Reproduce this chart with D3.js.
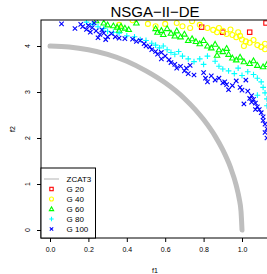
<!DOCTYPE html>
<html>
<head>
<meta charset="utf-8">
<script src="https://cdn.jsdelivr.net/npm/d3@7"></script>
<style>
  body { margin: 0; background: #fff; }
  svg { display: block; font-family: "Liberation Sans", Arial, sans-serif; }
  .tick text { font-size: 7px; fill: #000; }
</style>
</head>
<body>
<svg width="267" height="274"></svg>
<script>
// Pareto front of ZCAT3
const frontF1 = [0, 0.1, 0.2, 0.3, 0.4, 0.5, 0.6, 0.7, 0.8, 0.86, 0.9, 0.94, 0.97, 0.985, 0.995, 1.0];
const frontF2 = [4.0, 3.98, 3.92, 3.82, 3.67, 3.46, 3.2, 2.86, 2.4, 2.04, 1.74, 1.36, 0.97, 0.69, 0.40, 0.0];

const xTicks = [0, 0.2, 0.4, 0.6, 0.8, 1.0];
const yTicks = [0, 1, 2, 3, 4];

const seriesNames = ['G 20', 'G 40', 'G 60', 'G 80', 'G 100'];
const seriesColors = ['#ff0000', '#ffff00', '#00ff00', '#00ffff', '#0000ff'];
const seriesShapes = ['square', 'circle', 'triangle', 'plus', 'cross'];

const g20 = [[0.79, 4.41], [0.90, 4.30], [1.04, 4.30], [1.125, 4.50]];

const g40 = [
  [0.36, 4.46], [0.43, 4.56], [0.51, 4.48], [0.55, 4.43], [0.60, 4.48], [0.69, 4.43],
  [0.73, 4.39], [0.74, 4.54], [0.78, 4.46], [0.82, 4.39], [0.85, 4.35], [0.87, 4.30],
  [0.90, 4.33], [0.92, 4.26], [0.95, 4.24], [0.97, 4.19], [0.99, 4.22], [0.98, 4.30],
  [1.00, 4.14], [1.02, 4.10], [1.04, 4.07], [1.06, 4.13], [1.08, 4.02], [1.10, 3.98],
  [1.12, 3.93], [1.12, 4.05], [0.88, 4.39], [0.94, 4.36], [0.66, 4.50], [1.01, 4.00]
];

const g60 = [
  [0.24, 4.55], [0.28, 4.50], [0.30, 4.46], [0.33, 4.44], [0.35, 4.41], [0.37, 4.43],
  [0.39, 4.39], [0.41, 4.36], [0.36, 4.34], [0.55, 4.38], [0.56, 4.30], [0.58, 4.34],
  [0.59, 4.25], [0.61, 4.38], [0.63, 4.28], [0.65, 4.22], [0.66, 4.33], [0.68, 4.20],
  [0.70, 4.26], [0.72, 4.12], [0.74, 4.16], [0.76, 4.10], [0.78, 4.05], [0.80, 4.12],
  [0.82, 4.00], [0.84, 3.96], [0.86, 4.04], [0.88, 3.92], [0.90, 3.88], [0.92, 3.95],
  [0.93, 3.82], [0.95, 3.74], [0.97, 3.70], [0.99, 3.76], [1.01, 3.66], [1.04, 3.62],
  [1.06, 3.68], [1.08, 3.58], [1.11, 3.55], [1.13, 3.60], [0.45, 4.50], [0.87, 3.80]
];

const g80 = [
  [0.19, 4.52], [0.22, 4.47], [0.25, 4.42], [0.28, 4.38], [0.30, 4.32], [0.33, 4.30],
  [0.36, 4.28], [0.40, 4.22], [0.44, 4.20], [0.47, 4.14], [0.50, 4.12], [0.53, 4.06],
  [0.55, 4.02], [0.57, 3.96], [0.59, 4.00], [0.61, 3.92], [0.63, 3.86], [0.65, 3.82],
  [0.67, 3.88], [0.69, 3.78], [0.72, 3.72], [0.75, 3.66], [0.78, 3.72], [0.80, 3.60],
  [0.82, 3.78], [0.86, 3.67], [0.88, 3.56], [0.90, 3.50], [0.93, 3.46], [0.96, 3.40],
  [0.98, 3.52], [1.00, 3.36], [1.03, 3.44], [1.06, 3.38], [1.08, 3.30], [1.10, 3.22],
  [1.11, 3.10], [1.12, 2.98], [1.08, 2.93], [1.13, 2.85], [1.13, 2.70]
];

const g100 = [
  [0.06, 4.48], [0.16, 4.47], [0.13, 4.38], [0.17, 4.42], [0.19, 4.36], [0.21, 4.30],
  [0.22, 4.40], [0.24, 4.33], [0.26, 4.25], [0.28, 4.28], [0.30, 4.20], [0.32, 4.27],
  [0.25, 4.18], [0.29, 4.14], [0.34, 4.20], [0.36, 4.17], [0.39, 4.16], [0.20, 4.45],
  [0.23, 4.50], [0.27, 4.35],
  [0.43, 4.15], [0.45, 4.10], [0.47, 4.12], [0.49, 4.05], [0.50, 4.00], [0.52, 3.98],
  [0.53, 3.92], [0.55, 3.88], [0.56, 3.82], [0.58, 3.86], [0.58, 3.72], [0.60, 3.78],
  [0.62, 3.70], [0.63, 3.64], [0.65, 3.60], [0.66, 3.52], [0.68, 3.56], [0.70, 3.46],
  [0.71, 3.52], [0.73, 3.58], [0.72, 3.40], [0.75, 3.37],
  [0.80, 3.42], [0.81, 3.30], [0.82, 3.22], [0.84, 3.35], [0.86, 3.26], [0.88, 3.30],
  [0.90, 3.20], [0.91, 3.22], [0.92, 3.16], [0.95, 3.14], [0.97, 3.24], [0.99, 3.10],
  [0.93, 3.05], [1.00, 3.04], [1.01, 2.74],
  [1.02, 3.26], [1.03, 3.02], [1.05, 2.92], [1.06, 2.84], [1.07, 2.76], [1.08, 2.68],
  [1.09, 2.62], [1.10, 2.55], [1.11, 2.46], [1.11, 2.38], [1.12, 2.30], [1.13, 2.20],
  [1.12, 2.12], [1.13, 2.00], [1.05, 2.78], [1.04, 2.86], [1.07, 2.62]
];

const seriesData = [g20, g40, g60, g80, g100];

const svg = d3.select('svg');

// plot box (right edge sits just outside the window)
const box = { left: 41, top: 20, right: 269, bottom: 238 };

const xScale = d3.scaleLinear().domain([0, 1]).range([50, 242]);
const yScale = d3.scaleLinear().domain([0, 4]).range([230, 46]);

svg.append('clipPath').attr('id', 'clip')
  .append('rect')
    .attr('x', box.left).attr('y', box.top)
    .attr('width', box.right - box.left).attr('height', box.bottom - box.top);

const plot = svg.append('g').attr('clip-path', 'url(#clip)');

// grey front
const front = frontF1.map((d, i) => [d, frontF2[i]]);
plot.append('path')
  .datum(front)
  .attr('fill', 'none')
  .attr('stroke', '#bebebe')
  .attr('stroke-width', 5)
  .attr('stroke-linecap', 'round')
  .attr('d', d3.line()
    .x(d => xScale(d[0]))
    .y(d => yScale(d[1]))
    .curve(d3.curveMonotoneX));

// marker drawing, R pch 0..4
const drawMarker = (sel, shape, color, s) => {
  sel.each(function () {
    const m = d3.select(this).attr('stroke-width', 1.1);
    if (shape === 'square') {
      m.append('rect').attr('x', -s).attr('y', -s).attr('width', 2 * s).attr('height', 2 * s)
        .attr('fill', 'none').attr('stroke', color);
    } else if (shape === 'circle') {
      m.append('circle').attr('r', s + 0.3).attr('fill', 'none').attr('stroke', color);
    } else if (shape === 'triangle') {
      const h = s * 1.25;
      m.append('path').attr('d', `M0,${-h}L${h},${h * 0.75}L${-h},${h * 0.75}Z`)
        .attr('fill', 'none').attr('stroke', color);
    } else if (shape === 'plus') {
      const h = s * 1.3;
      m.append('path').attr('d', `M${-h},0H${h}M0,${-h}V${h}`).attr('stroke', color);
    } else {
      m.append('path').attr('d', `M${-s},${-s}L${s},${s}M${-s},${s}L${s},${-s}`).attr('stroke', color);
    }
  });
};

seriesData.forEach((data, i) => {
  plot.append('g')
    .selectAll('g').data(data)
    .enter().append('g')
      .attr('transform', d => `translate(${xScale(d[0])},${yScale(d[1])})`)
      .call(drawMarker, seriesShapes[i], seriesColors[i], 2.2);
});

// box
svg.append('rect')
  .attr('x', box.left).attr('y', box.top)
  .attr('width', box.right - box.left).attr('height', box.bottom - box.top)
  .attr('fill', 'none').attr('stroke', '#000').attr('stroke-width', 1);

// axes
const xAxisG = svg.append('g')
  .attr('transform', `translate(0, ${box.bottom})`)
  .call(d3.axisBottom(xScale).tickValues(xTicks).tickFormat(d3.format('.1f')).tickSize(4).tickPadding(5));
xAxisG.select('.domain').remove();

const yAxisG = svg.append('g')
  .attr('transform', `translate(${box.left}, 0)`)
  .call(d3.axisLeft(yScale).tickValues(yTicks).tickSize(4).tickFormat(''));
yAxisG.select('.domain').remove();

// rotated y tick labels, R style
svg.append('g').selectAll('text').data(yTicks)
  .enter().append('text')
    .attr('transform', d => `translate(28, ${yScale(d)}) rotate(-90)`)
    .attr('text-anchor', 'middle')
    .attr('dy', '0.35em')
    .attr('font-size', 7)
    .text(d => d);

svg.append('text')
  .attr('x', 155).attr('y', 273)
  .attr('text-anchor', 'middle')
  .attr('font-size', 7)
  .text('f1');

svg.append('text')
  .attr('transform', 'translate(15, 129) rotate(-90)')
  .attr('text-anchor', 'middle')
  .attr('font-size', 7)
  .text('f2');

svg.append('text')
  .attr('x', 155).attr('y', 17)
  .attr('text-anchor', 'middle')
  .attr('font-size', 15)
  .text('NSGA−II−DE');

// legend
const legend = svg.append('g');
legend.append('rect')
  .attr('x', box.left).attr('y', 168)
  .attr('width', 54.5).attr('height', box.bottom - 168)
  .attr('fill', '#fff').attr('stroke', '#000');

legend.append('line')
  .attr('x1', 44).attr('x2', 59).attr('y1', 179).attr('y2', 179)
  .attr('stroke', '#cccccc').attr('stroke-width', 1.5);
legend.append('text')
  .attr('x', 66.5).attr('y', 179).attr('dy', '0.35em')
  .attr('font-size', 8).text('ZCAT3');

seriesNames.forEach((name, i) => {
  const y = 189 + i * 10;
  legend.append('g')
    .attr('transform', `translate(51.5,${y})`)
    .call(drawMarker, seriesShapes[i], seriesColors[i], 1.7);
  legend.append('text')
    .attr('x', 66.5).attr('y', y).attr('dy', '0.35em')
    .attr('font-size', 8).text(name);
});
</script>
</body>
</html>
